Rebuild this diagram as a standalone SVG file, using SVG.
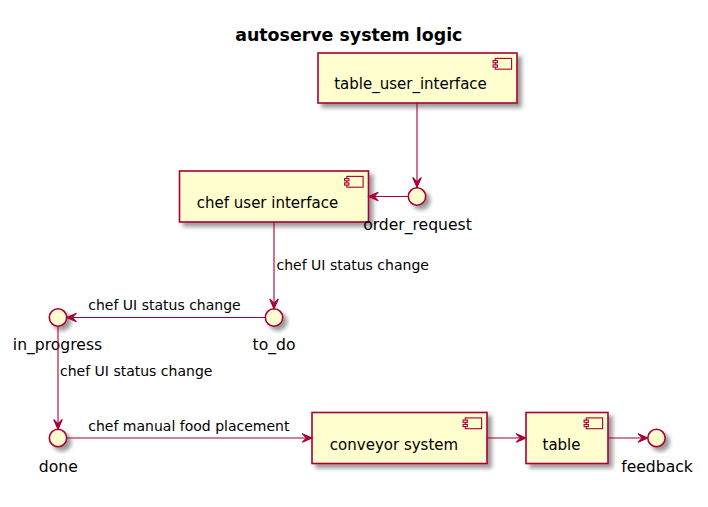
<svg xmlns="http://www.w3.org/2000/svg" xmlns:xlink="http://www.w3.org/1999/xlink" width="708" height="507" viewBox="0 0 708 507">
<style>
.box{fill:#FEFECE;stroke:#A80036;stroke-width:1.6;filter:url(#sh)}
.ic{fill:#FEFECE;stroke:#A80036;stroke-width:1.1}
.ifc{fill:#FEFECE;stroke:#A80036;stroke-width:1.6;filter:url(#sh)}
.ln{fill:none;stroke:#A80036;stroke-width:1.1}
.ah{fill:#A80036;stroke:#A80036;stroke-width:1.1}
.nt{font-family:"DejaVu Sans",Verdana,sans-serif;font-size:15px;fill:#000;text-anchor:middle}
.it{font-family:"DejaVu Sans",Verdana,sans-serif;font-size:15.6px;fill:#000;text-anchor:middle}
.lt{font-family:"DejaVu Sans",Verdana,sans-serif;font-size:14px;fill:#000}
.tt{font-family:"DejaVu Sans",Verdana,sans-serif;font-size:17.4px;font-weight:bold;fill:#000;text-anchor:middle}
</style>
<defs>
<filter id="sh" x="-20%" y="-20%" width="160%" height="160%">
<feGaussianBlur in="SourceAlpha" stdDeviation="2" result="b"/>
<feColorMatrix in="b" type="matrix" values="0 0 0 0 0 0 0 0 0 0 0 0 0 0 0 0 0 0 0.4 0" result="c"/>
<feOffset in="c" dx="4" dy="4" result="o"/>
<feBlend in="SourceGraphic" in2="o" mode="normal"/>
</filter>
<g id="icon">
<rect class="ic" x="-21.7" y="5.4" width="16.3" height="10.8"/>
<rect class="ic" x="-23.9" y="7.6" width="4.3" height="2.2"/>
<rect class="ic" x="-23.9" y="11.9" width="4.3" height="2.2"/>
</g>
</defs>
<rect width="708" height="507" fill="#FFFFFF"/>
<text class="tt" x="348.8" y="40.5">autoserve system logic</text>

<g id="table_user_interface">
<rect class="box" x="318" y="53" width="199" height="50"/>
<use xlink:href="#icon" x="517" y="53"/>
<text class="nt" x="410.5" y="88.5">table_user_interface</text>
</g>
<g id="chef_user_interface">
<rect class="box" x="179.5" y="171" width="189" height="51"/>
<use xlink:href="#icon" x="368.5" y="171"/>
<text class="nt" x="267.5" y="208.3">chef user interface</text>
</g>
<g id="conveyor_system">
<rect class="box" x="312" y="412.5" width="175" height="51"/>
<use xlink:href="#icon" x="487" y="412.5"/>
<text class="nt" x="394" y="449.5">conveyor system</text>
</g>
<g id="table">
<rect class="box" x="526" y="412.5" width="82" height="51"/>
<use xlink:href="#icon" x="608" y="412.5"/>
<text class="nt" x="561.5" y="449.5">table</text>
</g>

<g id="order_request">
<circle class="ifc" cx="417" cy="196.5" r="8.7"/>
<text class="it" x="417.5" y="229.5">order_request</text>
</g>
<g id="to_do">
<circle class="ifc" cx="274" cy="317.5" r="8.7"/>
<text class="it" x="274" y="350">to_do</text>
</g>
<g id="in_progress">
<circle class="ifc" cx="58" cy="317.5" r="8.7"/>
<text class="it" x="57.5" y="350">in_progress</text>
</g>
<g id="done">
<circle class="ifc" cx="58" cy="438" r="8.7"/>
<text class="it" x="58.3" y="471.5">done</text>
</g>
<g id="feedback">
<circle class="ifc" cx="656.5" cy="438" r="8.7"/>
<text class="it" x="657" y="471.5">feedback</text>
</g>

<g id="connectors">
<path class="ln" d="M417,103 L417,187"/>
<polygon class="ah" points="417,187.3 412.7,177.5 417,181.9 421.3,177.5"/>
<path class="ln" d="M408.3,196.5 L370,196.5"/>
<polygon class="ah" points="368.5,196.5 378.3,192.2 373.9,196.5 378.3,200.8"/>
<path class="ln" d="M274,222 L274,308"/>
<polygon class="ah" points="274,308.8 269.7,299 274,303.4 278.3,299"/>
<text class="lt" x="276.5" y="269.5">chef UI status change</text>
<path class="ln" d="M265.3,317.5 L67.5,317.5"/>
<polygon class="ah" points="66.7,317.5 76.5,313.2 72.1,317.5 76.5,321.8"/>
<text class="lt" x="88.3" y="310">chef UI status change</text>
<path class="ln" d="M58,326.2 L58,428.5"/>
<polygon class="ah" points="58,429.3 53.7,419.5 58,423.9 62.3,419.5"/>
<text class="lt" x="60" y="375.5">chef UI status change</text>
<path class="ln" d="M66.7,438 L311,438"/>
<polygon class="ah" points="312,438 302.2,433.7 306.6,438 302.2,442.3"/>
<text class="lt" x="88.3" y="430.5">chef manual food placement</text>
<path class="ln" d="M487,438 L525,438"/>
<polygon class="ah" points="526,438 516.2,433.7 520.6,438 516.2,442.3"/>
<path class="ln" d="M608,438 L647,438"/>
<polygon class="ah" points="647.8,438 638,433.7 642.4,438 638,442.3"/>
</g>
</svg>
